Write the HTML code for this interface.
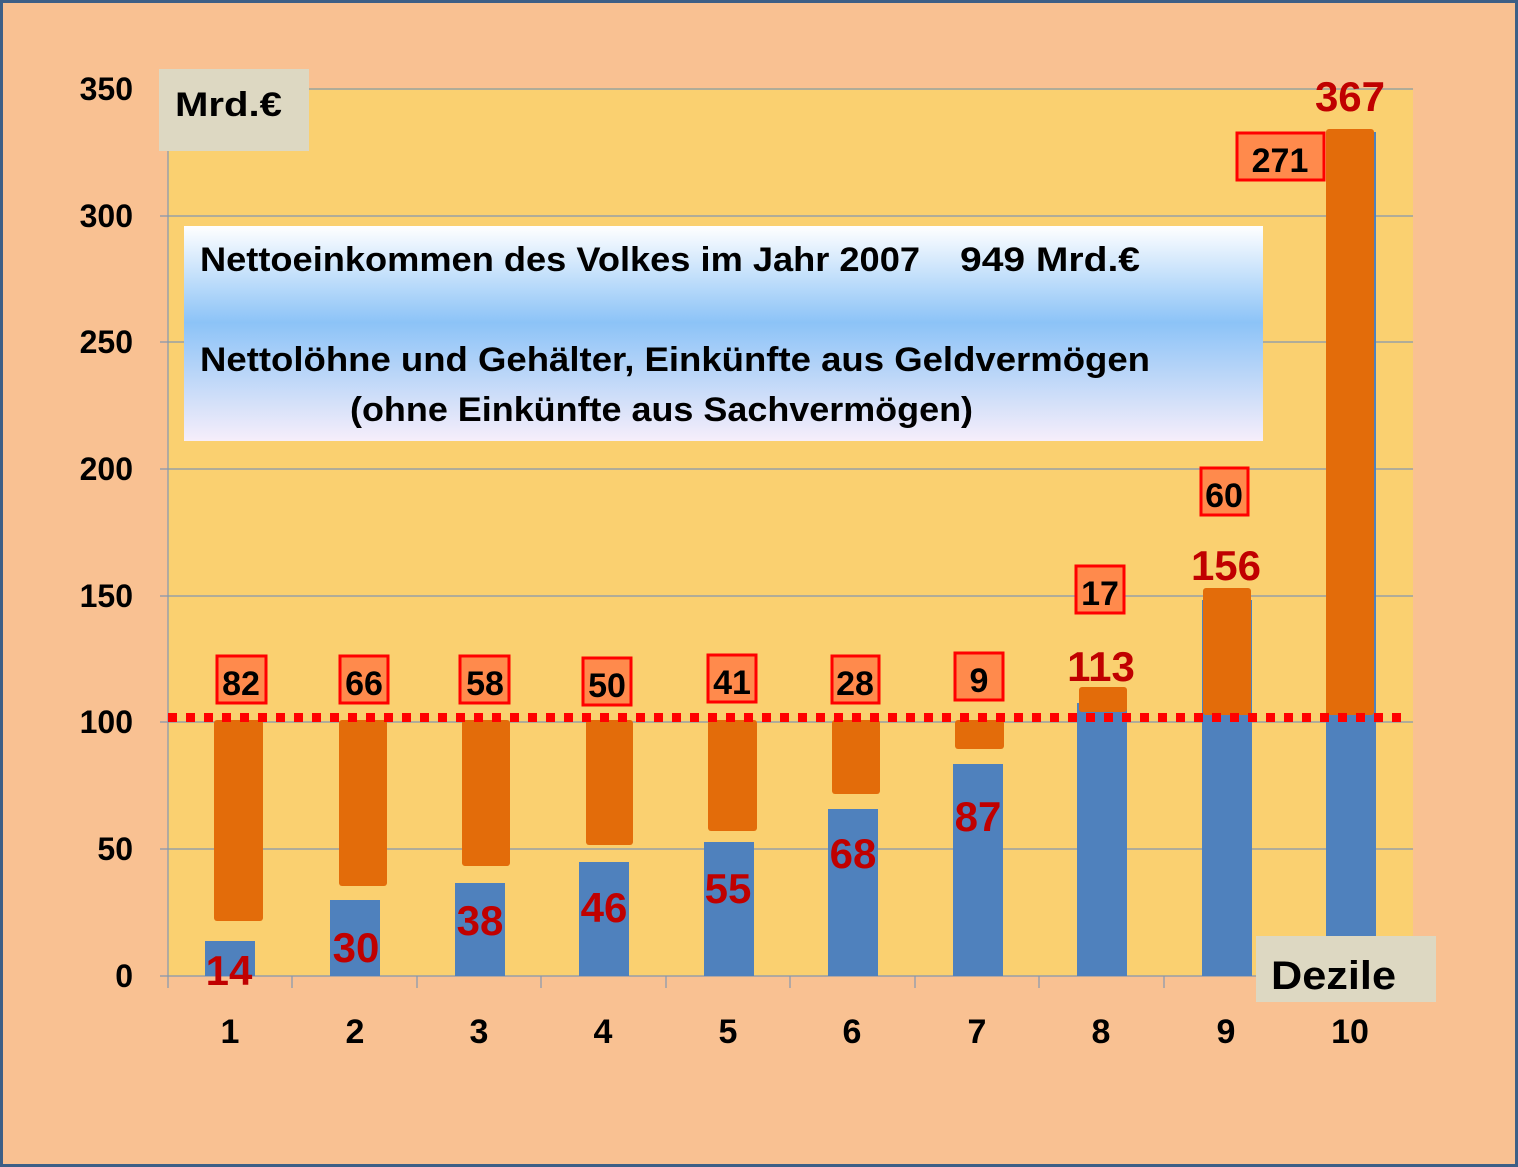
<!DOCTYPE html>
<html><head><meta charset="utf-8"><style>
html,body{margin:0;padding:0;background:#F9C192;}
svg{display:block;font-family:"Liberation Sans",sans-serif;font-weight:bold;}
</style></head><body>
<svg width="1518" height="1167" viewBox="0 0 1518 1167" xmlns="http://www.w3.org/2000/svg">
<defs>
<linearGradient id="g" x1="0" y1="0" x2="0" y2="1">
<stop offset="0" stop-color="#ffffff"/>
<stop offset="0.45" stop-color="#8cc3f7"/>
<stop offset="1" stop-color="#f6eefa"/>
</linearGradient>
</defs>
<rect x="1.5" y="1.5" width="1515" height="1164" fill="#F9C192" stroke="#3d5f86" stroke-width="3"/>
<rect x="168" y="88" width="1245" height="888" fill="#FAD070"/>
<g stroke="#8497b0" stroke-width="1.2">
<line x1="160" y1="89" x2="1413" y2="89"/>
<line x1="160" y1="216" x2="1413" y2="216"/>
<line x1="160" y1="342" x2="1413" y2="342"/>
<line x1="160" y1="469" x2="1413" y2="469"/>
<line x1="160" y1="596" x2="1413" y2="596"/>
<line x1="160" y1="722" x2="1413" y2="722"/>
<line x1="160" y1="849" x2="1413" y2="849"/>
<line x1="160" y1="976" x2="1413" y2="976"/>
<line x1="168" y1="89" x2="168" y2="988"/>
<line x1="292" y1="976" x2="292" y2="988"/>
<line x1="417" y1="976" x2="417" y2="988"/>
<line x1="541" y1="976" x2="541" y2="988"/>
<line x1="666" y1="976" x2="666" y2="988"/>
<line x1="790" y1="976" x2="790" y2="988"/>
<line x1="915" y1="976" x2="915" y2="988"/>
<line x1="1039" y1="976" x2="1039" y2="988"/>
<line x1="1164" y1="976" x2="1164" y2="988"/>
<line x1="1288" y1="976" x2="1288" y2="988"/>
<line x1="1413" y1="976" x2="1413" y2="988"/>
</g>
<g fill="#000" font-size="32" text-anchor="end">
<text x="133" y="100">350</text><text x="133" y="227">300</text><text x="133" y="353">250</text>
<text x="133" y="480">200</text><text x="133" y="607">150</text><text x="133" y="733">100</text>
<text x="133" y="860">50</text><text x="133" y="987">0</text>
</g>
<g fill="#000" font-size="34" text-anchor="middle">
<text x="230" y="1043">1</text><text x="355" y="1043">2</text><text x="479" y="1043">3</text><text x="603" y="1043">4</text><text x="728" y="1043">5</text><text x="852" y="1043">6</text><text x="977" y="1043">7</text><text x="1101" y="1043">8</text><text x="1226" y="1043">9</text><text x="1350" y="1043">10</text>
</g>
<g fill="#4F81BD">
<rect x="205" y="941" width="50" height="35"/>
<rect x="330" y="900" width="50" height="76"/>
<rect x="455" y="883" width="50" height="93"/>
<rect x="579" y="862" width="50" height="114"/>
<rect x="704" y="842" width="50" height="134"/>
<rect x="828" y="809" width="50" height="167"/>
<rect x="953" y="764" width="50" height="212"/>
<rect x="1077" y="703" width="50" height="273"/>
<rect x="1202" y="600" width="50" height="376"/>
<rect x="1326" y="132" width="50" height="844"/>
</g>
<g fill="#E36C0A">
<rect x="214" y="720" width="49" height="201" rx="3"/>
<rect x="339" y="720" width="48" height="166" rx="3"/>
<rect x="462" y="720" width="48" height="146" rx="3"/>
<rect x="586" y="720" width="47" height="125" rx="3"/>
<rect x="708" y="720" width="49" height="111" rx="3"/>
<rect x="832" y="720" width="48" height="74" rx="3"/>
<rect x="955" y="720" width="49" height="29" rx="3"/>
<rect x="1079" y="687" width="48" height="25" rx="3"/>
<rect x="1203" y="588" width="48" height="127" rx="3"/>
<rect x="1326" y="129" width="48" height="586" rx="3"/>
</g>
<line x1="168" y1="717.5" x2="1405" y2="717.5" stroke="#FF0000" stroke-width="9" stroke-dasharray="9 9"/>
<g fill="#FF8A4C" stroke="#FF0000" stroke-width="3">
<rect x="217" y="656" width="49" height="47"/>
<rect x="340" y="656" width="48" height="47"/>
<rect x="460" y="656" width="49" height="47"/>
<rect x="583" y="658" width="48" height="47"/>
<rect x="708" y="655" width="48" height="47"/>
<rect x="832" y="656" width="47" height="47"/>
<rect x="955" y="653" width="48" height="47"/>
<rect x="1076" y="566" width="48" height="47"/>
<rect x="1201" y="468" width="47" height="47"/>
<rect x="1237" y="133" width="87" height="47"/>
</g>
<g fill="#000" font-size="34" text-anchor="middle">
<text x="241" y="695">82</text><text x="364" y="695">66</text><text x="485" y="695">58</text><text x="607" y="697">50</text><text x="732" y="694">41</text><text x="855" y="695">28</text><text x="979" y="692">9</text><text x="1100" y="605">17</text><text x="1224" y="507">60</text><text x="1280" y="172">271</text>
</g>
<g fill="#C00000" font-size="42" text-anchor="middle">
<text x="229" y="985">14</text><text x="356" y="962">30</text><text x="480" y="935">38</text><text x="604" y="922">46</text><text x="728" y="903">55</text><text x="853" y="868">68</text><text x="978" y="831">87</text><text x="1101" y="681">113</text><text x="1226" y="580">156</text><text x="1350" y="111">367</text>
</g>
<rect x="159" y="69" width="150" height="82" fill="#DDD8C2"/>
<text x="175" y="116" font-size="34" fill="#000" textLength="107" lengthAdjust="spacingAndGlyphs">Mrd.€</text>
<rect x="1256" y="936" width="180" height="66" fill="#DDD8C2"/>
<text x="1271" y="989" font-size="40" fill="#000" textLength="125" lengthAdjust="spacingAndGlyphs">Dezile</text>
<rect x="184" y="226" width="1079" height="215" fill="url(#g)"/>
<g fill="#000" font-size="34">
<text x="200" y="271" textLength="720" lengthAdjust="spacingAndGlyphs">Nettoeinkommen des Volkes im Jahr 2007</text>
<text x="960" y="271" textLength="180" lengthAdjust="spacingAndGlyphs">949 Mrd.€</text>
<text x="200" y="371" textLength="950" lengthAdjust="spacingAndGlyphs">Nettolöhne und Gehälter, Einkünfte aus Geldvermögen</text>
<text x="350" y="421" textLength="623" lengthAdjust="spacingAndGlyphs">(ohne Einkünfte aus Sachvermögen)</text>
</g>
</svg>
</body></html>
